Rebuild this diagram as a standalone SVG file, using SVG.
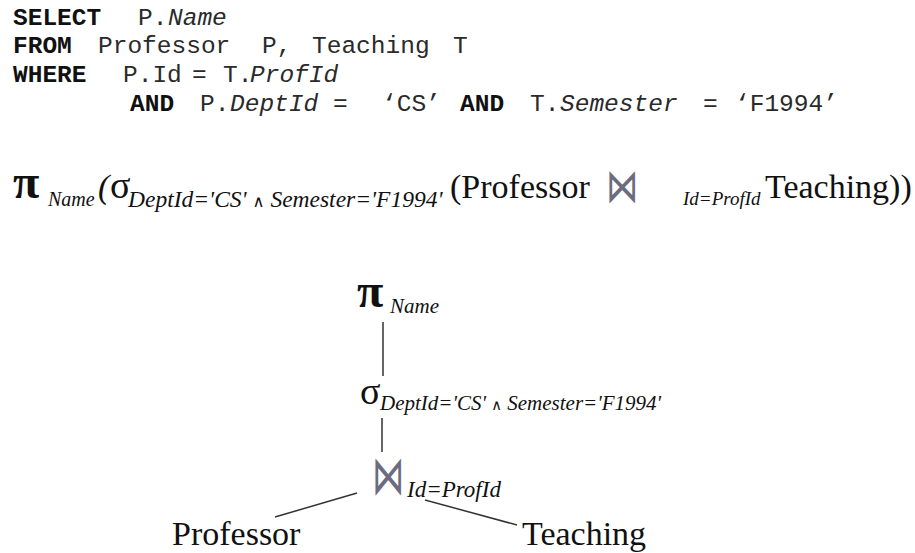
<svg xmlns="http://www.w3.org/2000/svg" width="915" height="553" viewBox="0 0 915 553">
<style>
.sql{font-family:"Liberation Mono","Courier New",monospace;font-size:24.5px;fill:#2a2a2a}
.kw{font-weight:bold;fill:#111}
.it{font-style:italic}
.ser{font-family:"Liberation Serif","Times New Roman",serif;fill:#111}
.pi{font-size:48px;font-weight:bold}
.sig{font-size:38px}
.big{font-size:34px}
.sub{font-family:"Liberation Serif","Times New Roman",serif;font-style:italic}
.and{font-family:"DejaVu Sans",sans-serif;font-style:normal;font-size:0.7em}
.bow{font-family:"DejaVu Sans",sans-serif;font-size:36px;fill:#6c6c80}
.edge{stroke:#333;stroke-width:1.5;fill:none}
</style>
<rect width="915" height="553" fill="#fff"/>
<g id="sql" class="sql">
<text y="25"><tspan class="kw" x="13">SELECT</tspan><tspan x="138">P.</tspan><tspan class="it" x="168">Name</tspan></text>
<text y="53"><tspan class="kw" x="13">FROM</tspan><tspan x="98">Professor</tspan><tspan x="262">P,</tspan><tspan x="312">Teaching</tspan><tspan x="453">T</tspan></text>
<text y="82"><tspan class="kw" x="13">WHERE</tspan><tspan x="123">P.Id</tspan><tspan x="192">=</tspan><tspan x="223">T.</tspan><tspan class="it" x="250">ProfId</tspan></text>
<text y="111"><tspan class="kw" x="130">AND</tspan><tspan x="200">P.</tspan><tspan class="it" x="230">DeptId</tspan><tspan x="333">=</tspan><tspan x="382">‘CS’</tspan><tspan class="kw" x="460">AND</tspan><tspan x="530">T.</tspan><tspan class="it" x="560">Semester</tspan><tspan x="703">=</tspan><tspan x="735">‘F1994’</tspan></text>
</g>
<g id="formula" class="ser">
<text class="pi" x="13" y="198">π</text>
<text class="sub" x="48" y="206" font-size="20">Name</text>
<text class="big sub" x="98" y="198">(</text>
<text class="sig" x="110" y="198">σ</text>
<text class="sub" x="128" y="207" font-size="23.5">DeptId='CS' <tspan class="and">∧</tspan> Semester='F1994'</text>
<text class="big" x="450" y="198">(Professor</text>
<text class="bow" transform="translate(606,202) scale(0.9,1.3)">⋈</text>
<text class="sub" x="683" y="205" font-size="19">Id=ProfId</text>
<text class="big" x="765" y="198">Teaching))</text>
</g>
<g id="connectors">
<line class="edge" x1="383" y1="322" x2="383" y2="376"/>
<line class="edge" x1="382" y1="418" x2="382" y2="452"/>
<line class="edge" x1="357" y1="493" x2="275" y2="517"/>
<line class="edge" x1="425" y1="500" x2="517" y2="525"/>
</g>
<g id="node-project" class="ser">
<text class="pi" x="357" y="307">π</text>
<text class="sub" x="390" y="313" font-size="21">Name</text>
</g>
<g id="node-select" class="ser">
<text class="sig" x="360" y="404">σ</text>
<text class="sub" x="380" y="410" font-size="21">DeptId='CS' <tspan class="and">∧</tspan> Semester='F1994'</text>
</g>
<g id="node-join" class="ser">
<text class="bow" transform="translate(372,494) scale(0.9,1.5)">⋈</text>
<text class="sub" x="407" y="497" font-size="23">Id=ProfId</text>
</g>
<g id="node-professor" class="ser"><text class="big" x="172" y="545">Professor</text></g>
<g id="node-teaching" class="ser"><text class="big" x="522" y="545">Teaching</text></g>
</svg>
